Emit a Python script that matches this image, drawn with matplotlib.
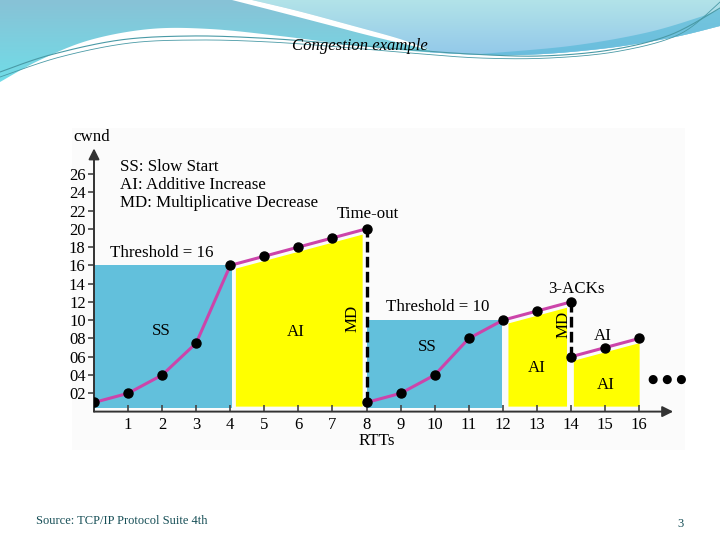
import numpy as np
import matplotlib
matplotlib.use('Agg')
import matplotlib.pyplot as plt
from matplotlib.patches import Polygon, Rectangle
from matplotlib.colors import to_rgb

# ---------------- data ----------------
rtt_1 = [0, 1, 2, 3, 4, 5, 6, 7, 8]
cwnd_1 = [1, 2, 4, 7.5, 16, 17, 18, 19, 20]
rtt_2 = [8, 9, 10, 11, 12, 13, 14]
cwnd_2 = [1, 2, 4, 8, 10, 11, 12]
rtt_3 = [14, 15, 16]
cwnd_3 = [6, 7, 8]
threshold_1 = 16
threshold_2 = 10
x_ticks = list(range(1, 17))
y_ticks = list(range(2, 27, 2))
y_tick_labels = ['02', '04', '06', '08', '10', '12', '14', '16', '18', '20', '22', '24', '26']

BLUE = '#62c0dc'
YELLOW = '#ffff00'
MAGENTA = '#cc44aa'
SERIF = 'Liberation Serif'

fig = plt.figure(figsize=(7.2, 5.4), dpi=100)

# ---------------- slide decoration (pixel coords) ----------------
bg = fig.add_axes([0, 0, 1, 1], zorder=-5)
bg.set_xlim(0, 720)
bg.set_ylim(540, 0)
bg.axis('off')


def smooth(pts, n=24):
    pts = np.asarray(pts, float)
    P = np.vstack([pts[0], pts, pts[-1]])
    out = []
    for i in range(1, len(P) - 2):
        p0, p1, p2, p3 = P[i - 1], P[i], P[i + 1], P[i + 2]
        t = np.linspace(0, 1, n, endpoint=False)[:, None]
        seg = 0.5 * ((2 * p1) + (-p0 + p2) * t + (2 * p0 - 5 * p1 + 4 * p2 - p3) * t ** 2
                     + (-p0 + 3 * p1 - 3 * p2 + p3) * t ** 3)
        out.append(seg)
    out.append(P[-2][None])
    return np.vstack(out)


def grad_fill(poly_pts, c_top, c_bot, y0, y1, zorder):
    poly = Polygon(poly_pts, closed=True, facecolor='none', edgecolor='none')
    bg.add_patch(poly)
    ct, cb = np.array(to_rgb(c_top)), np.array(to_rgb(c_bot))
    t = np.linspace(0, 1, 100)[:, None]
    col = ct * (1 - t) + cb * t
    img = np.repeat(col[:, None, :], 2, axis=1)
    im = bg.imshow(img, extent=[0, 720, y1, y0], aspect='auto', zorder=zorder, interpolation='bilinear')
    im.set_clip_path(poly)


lower = smooth([(0, 82), (40, 60), (90, 40), (150, 29), (210, 29), (280, 36), (360, 46),
                (440, 53), (520, 55), (600, 49), (670, 38), (720, 26)])
top_all = np.vstack([lower, [(720, 0), (0, 0)]])
grad_fill(top_all, '#88c2d6', '#70dde8', 0, 84, 1)

sw_left = smooth([(232, 0), (275, 11), (325, 24), (375, 37), (430, 50)])
sw_right = smooth([(252, 0), (298, 11), (350, 25), (400, 39), (430, 50)])
mask_right = lower[:, 0] >= 430
right_region = np.vstack([sw_right, lower[mask_right], [(720, 0)]])
grad_fill(right_region, '#b2e3e8', '#92c8ea', 0, 56, 2)
bg.add_patch(Polygon(np.vstack([sw_left, sw_right[::-1]]), closed=True,
                     facecolor='white', edgecolor='none', zorder=3))
stripe_up = smooth([(480, 54), (570, 46), (645, 33), (700, 17), (720, 9)])
bg.add_patch(Polygon(np.vstack([stripe_up, lower[lower[:, 0] >= 480][::-1]]), closed=True,
                     facecolor='#55b8d8', edgecolor='none', alpha=0.65, zorder=3))
for pts, lw in [([(0, 72), (50, 55), (120, 40), (190, 36), (260, 38), (330, 43), (400, 49),
                  (470, 54), (540, 56), (610, 50), (670, 35), (720, 8)], 0.8),
                ([(0, 77), (60, 57), (130, 43), (200, 40), (270, 42), (340, 47), (410, 53),
                  (480, 58), (550, 58), (620, 51), (680, 34), (720, 2)], 0.6)]:
    c = smooth(pts)
    bg.plot(c[:, 0], c[:, 1], color='#4a9aa6', lw=lw, zorder=4)

# chart panel
bg.add_patch(Rectangle((72, 128), 613, 322, facecolor='#fbfbfb', edgecolor='none', zorder=0))

fig.text(0.5, 1 - 46 / 540, 'Congestion example', ha='center', va='center',
         fontsize=12, style='italic', family=SERIF, color='black')
fig.text(36 / 720, 1 - 521 / 540, 'Source: TCP/IP Protocol Suite 4th', ha='left', va='center',
         fontsize=9, family=SERIF, color='#174f57')
fig.text(681 / 720, 1 - 524 / 540, '3', ha='center', va='center',
         fontsize=9, family=SERIF, color='#174f57')

# ---------------- main chart ----------------
ax = fig.add_axes([94 / 720, (540 - 411.6) / 540, 17 * 34.07 / 720, 28.8 * 9.14 / 540], zorder=1)
ax.set_facecolor('none')
ax.set_xlim(0, 17)
ax.set_ylim(0, 28.8)
for s in ax.spines.values():
    s.set_visible(False)

# phase fills
ax.fill_between([rtt_1[0], rtt_1[4] + 0.04], 0.35, threshold_1, color=BLUE, lw=0, zorder=1)
ax.fill_between([rtt_2[0], rtt_2[4] - 0.03], 0.35, threshold_2, color=BLUE, lw=0, zorder=1)


def yellow(xa, ya, x0, x1):
    xs = np.linspace(x0 + 0.15, x1 - 0.13, 60)
    top = np.interp(xs, xa, ya) - 0.45
    ax.fill_between(xs, 0.6, top, color=YELLOW, lw=0, zorder=1)


yellow(rtt_1, cwnd_1, rtt_1[4], rtt_1[-1])
yellow(rtt_2, cwnd_2, rtt_2[4], rtt_2[-1])
yellow(rtt_3, cwnd_3, rtt_3[0] - 0.08, rtt_3[-1] + 0.13)

# dashed drops
dash = (0, (3.2, 1.3))
ax.vlines(rtt_1[-1], cwnd_2[0], cwnd_1[-1], colors='black', lw=2.4, linestyles=[dash], zorder=3)
ax.vlines(rtt_2[-1], cwnd_3[0], cwnd_2[-1], colors='black', lw=2.4, linestyles=[dash], zorder=3)

for xa, ya in [(rtt_1, cwnd_1), (rtt_2, cwnd_2), (rtt_3, cwnd_3)]:
    ax.plot(xa, ya, color=MAGENTA, lw=2.2, zorder=4)
    ax.plot(xa, ya, 'o', color='black', ms=6.5, zorder=5)

# axes with arrows
ax.annotate('', xy=(17, 0), xytext=(0, 0), annotation_clip=False,
            arrowprops=dict(arrowstyle='-|>', color='#333333', lw=1.4, mutation_scale=16,
                            shrinkA=0, shrinkB=0))
ax.annotate('', xy=(0, 28.8), xytext=(0, 0), annotation_clip=False,
            arrowprops=dict(arrowstyle='-|>', color='#333333', lw=1.4, mutation_scale=16,
                            shrinkA=0, shrinkB=0))

ax.set_xticks(x_ticks)
ax.set_xticklabels([str(v) for v in x_ticks], family=SERIF, fontsize=12)
ax.set_yticks(y_ticks)
ax.set_yticklabels(y_tick_labels, family=SERIF, fontsize=12)
ax.tick_params(axis='x', direction='in', length=5, width=1.2, color='#444444', pad=4)
ax.tick_params(axis='y', direction='out', length=4.5, width=1.2, color='#444444', pad=1.5)

tk = dict(family=SERIF, fontsize=12.2, color='black', zorder=6)
ax.text(0.76, 26.8, 'SS: Slow Start', ha='left', va='center', **tk)
ax.text(0.76, 24.8, 'AI: Additive Increase', ha='left', va='center', **tk)
ax.text(0.76, 22.8, 'MD: Multiplicative Decrease', ha='left', va='center', **tk)
ax.text(0.47, 17.35, 'Threshold = 16', ha='left', va='center', **tk)
ax.text(8.04, 21.6, 'Time-out', ha='center', va='center', **tk)
ax.text(7.6, 10.2, 'MD', ha='center', va='center', rotation=90, **tk)
ax.text(1.97, 8.8, 'SS', ha='center', va='center', **tk)
ax.text(5.93, 8.7, 'AI', ha='center', va='center', **tk)
ax.text(10.1, 11.4, 'Threshold = 10', ha='center', va='center', **tk)
ax.text(9.77, 7.07, 'SS', ha='center', va='center', **tk)
ax.text(14.15, 13.4, '3-ACKs', ha='center', va='center', **tk)
ax.text(13.77, 9.5, 'MD', ha='center', va='center', rotation=90, **tk)
ax.text(13.0, 4.77, 'AI', ha='center', va='center', **tk)
ax.text(14.94, 8.27, 'AI', ha='center', va='center', **tk)
ax.text(15.03, 2.9, 'AI', ha='center', va='center', **tk)
ax.text(16.82, 3.57, '\u25cf \u25cf \u25cf', ha='center', va='center', fontsize=8.6,
        family='DejaVu Sans', color='black', clip_on=False)
ax.text(-0.06, 30.0, 'cwnd', ha='center', va='center', clip_on=False, **tk)
ax.text(8.31, -3.2, 'RTTs', ha='center', va='center', clip_on=False, **tk)

fig.savefig('out.png', dpi=100)
